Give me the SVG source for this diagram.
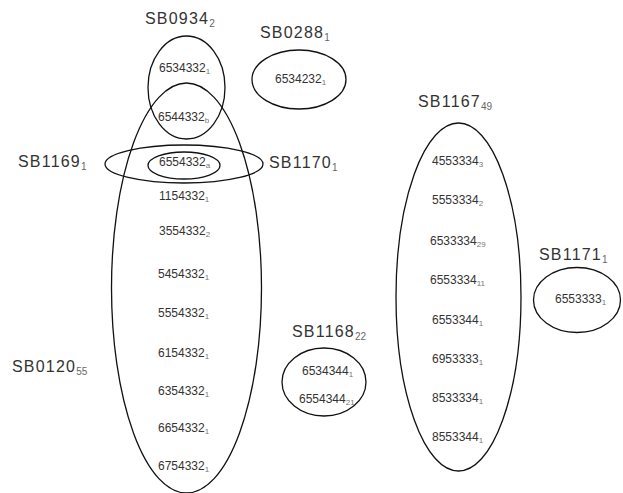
<svg xmlns="http://www.w3.org/2000/svg" width="623" height="493" viewBox="0 0 623 493">
<style>
.set{fill:none;stroke:#111;stroke-width:1.3}
.lbl{font-family:"Liberation Sans",Arial,sans-serif;font-size:16px;fill:#333;letter-spacing:1.2px}
.ls{font-size:10px;fill:#666;letter-spacing:0}
.it{font-family:"Liberation Sans",Arial,sans-serif;font-size:12px;fill:#333}
.is{font-size:8px;fill:#777}
</style>
<rect width="623" height="493" fill="#fff"/>
<g id="connectors"/>
<g id="SB0120">
<ellipse class="set" cx="186.5" cy="288" rx="75" ry="205"/>
<text class="lbl" x="12" y="372">SB0120<tspan class="ls" dy="3">55</tspan></text>
<text class="it" x="159" y="200">1154332<tspan class="is" dy="2">1</tspan></text>
<text class="it" x="159" y="235">3554332<tspan class="is" dy="2">2</tspan></text>
<text class="it" x="158" y="278">5454332<tspan class="is" dy="2">1</tspan></text>
<text class="it" x="158" y="317">5554332<tspan class="is" dy="2">1</tspan></text>
<text class="it" x="158" y="357">6154332<tspan class="is" dy="2">1</tspan></text>
<text class="it" x="158" y="395">6354332<tspan class="is" dy="2">1</tspan></text>
<text class="it" x="158" y="432">6654332<tspan class="is" dy="2">1</tspan></text>
<text class="it" x="158" y="470">6754332<tspan class="is" dy="2">1</tspan></text>
</g>
<g id="SB0934">
<ellipse class="set" cx="186.5" cy="87.5" rx="38.5" ry="51.5"/>
<text class="lbl" x="145" y="24">SB0934<tspan class="ls" dy="3">2</tspan></text>
<text class="it" x="159" y="72">6534332<tspan class="is" dy="2">1</tspan></text>
<text class="it" x="158" y="121">6544332<tspan class="is" dy="2">b</tspan></text>
</g>
<g id="SB1169">
<ellipse class="set" cx="184" cy="164" rx="79" ry="19"/>
<text class="lbl" x="18" y="167">SB1169<tspan class="ls" dy="3">1</tspan></text>
</g>
<g id="SB1170">
<ellipse class="set" cx="184" cy="165.5" rx="36" ry="13.5"/>
<text class="lbl" x="269" y="168">SB1170<tspan class="ls" dy="3">1</tspan></text>
<text class="it" x="159" y="166">6554332<tspan class="is" dy="2">a</tspan></text>
</g>
<g id="SB0288">
<ellipse class="set" cx="299" cy="79.5" rx="47" ry="29.5"/>
<text class="lbl" x="260" y="38">SB0288<tspan class="ls" dy="3">1</tspan></text>
<text class="it" x="275" y="83">6534232<tspan class="is" dy="2">1</tspan></text>
</g>
<g id="SB1167">
<ellipse class="set" cx="458.5" cy="297" rx="62.5" ry="174"/>
<text class="lbl" x="418" y="107">SB1167<tspan class="ls" dy="3">49</tspan></text>
<text class="it" x="432" y="165">4553334<tspan class="is" dy="2">3</tspan></text>
<text class="it" x="432" y="204">5553334<tspan class="is" dy="2">2</tspan></text>
<text class="it" x="430" y="245">6533334<tspan class="is" dy="2">29</tspan></text>
<text class="it" x="430" y="284">6553334<tspan class="is" dy="2">11</tspan></text>
<text class="it" x="432" y="324">6553344<tspan class="is" dy="2">1</tspan></text>
<text class="it" x="432" y="363">6953333<tspan class="is" dy="2">1</tspan></text>
<text class="it" x="432" y="402">8533334<tspan class="is" dy="2">1</tspan></text>
<text class="it" x="432" y="441">8553344<tspan class="is" dy="2">1</tspan></text>
</g>
<g id="SB1171">
<ellipse class="set" cx="577" cy="300" rx="43.5" ry="32.5"/>
<text class="lbl" x="539" y="260">SB1171<tspan class="ls" dy="3">1</tspan></text>
<text class="it" x="555" y="303">6553333<tspan class="is" dy="2">1</tspan></text>
</g>
<g id="SB1168">
<ellipse class="set" cx="324" cy="382" rx="42" ry="34"/>
<text class="lbl" x="292" y="337">SB1168<tspan class="ls" dy="3">22</tspan></text>
<text class="it" x="302" y="375">6534344<tspan class="is" dy="2">1</tspan></text>
<text class="it" x="299" y="403">6554344<tspan class="is" dy="2">21</tspan></text>
</g>
</svg>
